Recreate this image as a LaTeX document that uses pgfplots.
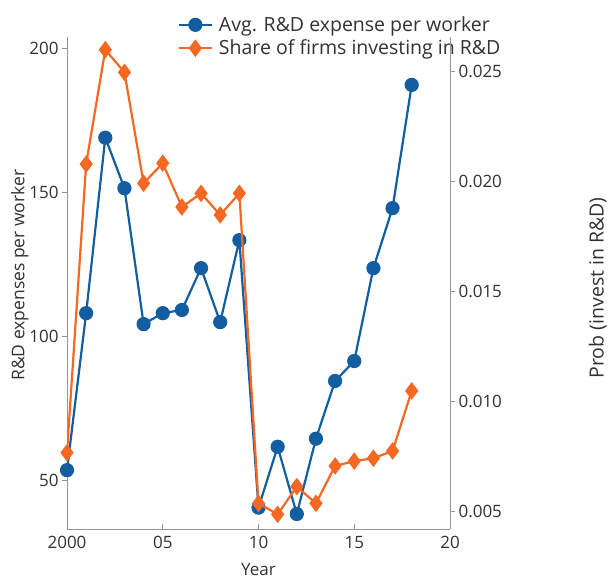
\documentclass[border=0pt]{standalone}
\usepackage{pgfplots}
\pgfplotsset{compat=1.18}
\usepackage{fontspec}
\setmainfont{Open Sans}
\definecolor{myblue}{RGB}{18,94,160}
\definecolor{myorange}{RGB}{244,104,34}
\definecolor{axgray}{RGB}{150,150,150}
\definecolor{txt}{RGB}{50,50,50}
\begin{document}
\begin{tikzpicture}
\path[use as bounding box] (-67pt,-51pt) rectangle (542pt,529pt);
\pgfplotsset{
  every axis/.append style={
    scale only axis, width=383pt, height=492pt,
    xmin=2000, xmax=2020,
    font=\fontsize{17}{20}\selectfont, text=txt,
    /pgf/number format/assume math mode=true,
    axis line style={draw=axgray, line width=0.8pt},
    every tick/.style={draw=axgray, line width=0.8pt},
    major tick length=5pt,
  },
  /pgfplots/legend image code/.code={\draw[mark repeat=2,mark phase=2] plot coordinates {(0pt,0pt) (16pt,0pt) (33pt,0pt)}; \path (37pt,0pt);},
}
\begin{axis}[
  axis x line*=bottom, axis y line*=left,
  ymin=33.3, ymax=203.8,
  xtick={2000,2005,2010,2015,2020},
  xticklabels={2000,05,10,15,20},
  x tick label style={/pgf/number format/1000 sep={}},
  xtick align=inside, ytick align=outside,
  ytick={50,100,150,200},
  xticklabel style={yshift=-4pt},
  xlabel={Year},
  xlabel style={at={(axis description cs:0.5,0)}, yshift=-41pt, anchor=center},
  ylabel={R\&D expenses per worker},
  ylabel style={at={(axis description cs:-0.123,0.516)}, anchor=center, font=\fontsize{17.5}{20}\selectfont},
  legend style={at={(axis description cs:0.29,1)}, anchor=north west, yshift=22pt, draw=none, fill=none, font=\fontsize{19.5}{21}\selectfont, row sep=4pt, inner sep=0pt, nodes={inner sep=1.5pt}},
  legend cell align=left,
]
\addplot[myblue, line width=2.2pt, mark=*, mark size=6pt, mark options={fill=myblue, draw=myblue}] coordinates {
(2000,53.7) (2001,108.1) (2002,168.9) (2003,151.4) (2004,104.3) (2005,108.1) (2006,109.2) (2007,123.7) (2008,105.0) (2009,133.4) (2010,40.7) (2011,61.8) (2012,38.5) (2013,64.6) (2014,84.6) (2015,91.5) (2016,123.7) (2017,144.5) (2018,187.2)
};
\addlegendentry{Avg. R\&D expense per worker}
\addlegendimage{myorange, line width=2.2pt, mark=diamond*, mark size=7pt, mark options={fill=myorange, draw=myorange}}
\addlegendentry{Share of firms investing in R\&D}
\end{axis}
\begin{axis}[
  axis y line*=right, axis x line=none,
  ymin=0.004214, ymax=0.026577,
  ytick={0.005,0.010,0.015,0.020,0.025},
  ytick align=outside,
  yticklabel style={/pgf/number format/.cd, fixed, fixed zerofill, precision=3},
  scaled y ticks=false,
  ylabel={Prob (invest in R\&D)},
  ylabel style={at={(axis description cs:1.386,0.49)}, anchor=center, font=\fontsize{19.5}{21}\selectfont},
]
\addplot[myorange, line width=2.2pt, mark=diamond*, mark size=7pt, mark options={fill=myorange, draw=myorange}] coordinates {
(2000,0.00768) (2001,0.0208) (2002,0.0260) (2003,0.02497) (2004,0.01993) (2005,0.02084) (2006,0.01885) (2007,0.01947) (2008,0.01849) (2009,0.01947) (2010,0.00538) (2011,0.00488) (2012,0.00614) (2013,0.00538) (2014,0.00708) (2015,0.00730) (2016,0.00743) (2017,0.00776) (2018,0.01049)
};
\end{axis}
\end{tikzpicture}
\end{document}
